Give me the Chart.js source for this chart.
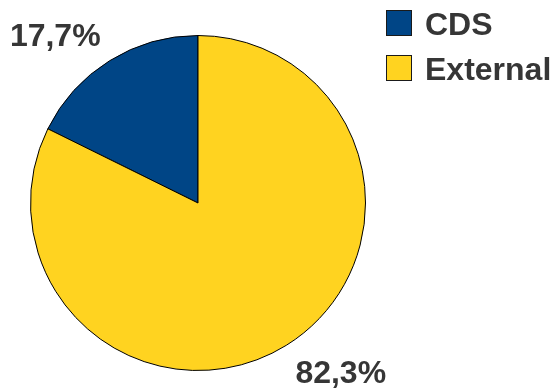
<!DOCTYPE html>
<html>
<head>
<meta charset="utf-8">
<script src="https://cdn.jsdelivr.net/npm/chart.js@4"></script>
<style>
  html, body { margin: 0; padding: 0; background: #fff; }
  #wrap { width: 559px; height: 389px; }
</style>
</head>
<body>
<div id="wrap"><canvas id="pie-chart" width="559" height="389"></canvas></div>
<script>
//
// Data
//
const categories = ['CDS', 'External'];
const shares = [17.7, 82.3];
const shareLabels = ['17,7%', '82,3%'];
const sliceColors = ['#004586', '#ffd320'];

const textColor = '#363636';
const fontSpec = 'bold 32px "Liberation Sans", Arial, sans-serif';

// Percent labels outside each slice + legend at top right
const pieLabels = {
    id: 'pieLabels',
    afterDraw(chart) {
        const ctx = chart.ctx;
        const arcs = chart.getDatasetMeta(0).data;
        ctx.save();
        ctx.font = fontSpec;
        ctx.fillStyle = textColor;
        arcs.forEach((arc, i) => {
            const mid = (arc.startAngle + arc.endAngle) / 2;
            const dist = arc.outerRadius + 17;
            const px = arc.x + Math.cos(mid) * dist;
            const py = arc.y + Math.sin(mid) * dist;
            ctx.textAlign = Math.cos(mid) < 0 ? 'right' : 'left';
            ctx.textBaseline = 'alphabetic';
            const y = Math.sin(mid) < 0 ? py : py + 23;
            ctx.fillText(shareLabels[i], px, y);
        });

        // legend
        ctx.textAlign = 'left';
        categories.forEach((name, i) => {
            const top = 10 + i * 45;
            ctx.fillStyle = sliceColors[i];
            ctx.fillRect(386, top, 26, 26);
            ctx.strokeStyle = '#1a1a1a';
            ctx.lineWidth = 1;
            ctx.strokeRect(386.5, top + 0.5, 25, 25);
            ctx.fillStyle = textColor;
            ctx.fillText(name, 425, top + 25);
        });
        ctx.restore();
    }
};

const pieCanvas = document.getElementById('pie-chart');

let pieChart = new Chart(pieCanvas, {
    type: 'pie',
    data: {
        labels: categories,
        datasets: [{
            data: shares,
            backgroundColor: sliceColors,
            borderColor: '#000000',
            borderWidth: 1
        }]
    },
    options: {
        responsive: false,
        animation: { duration: 0 },
        rotation: -shares[0] * 3.6,
        layout: {
            padding: { left: 30, top: 35, right: 193, bottom: 18 }
        },
        plugins: {
            legend: { display: false },
            tooltip: { enabled: false }
        }
    },
    plugins: [pieLabels]
});
</script>
</body>
</html>
